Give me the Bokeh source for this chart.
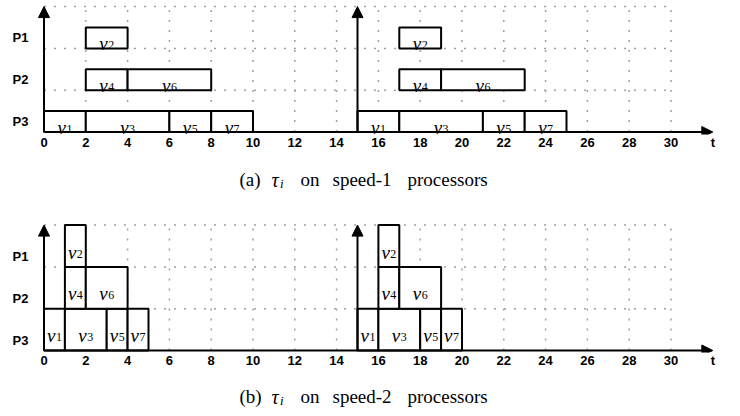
from bokeh.plotting import figure
from bokeh.models import ColumnDataSource, Range1d, FixedTicker, Arrow, NormalHead
from bokeh.layouts import column
from bokeh.core.properties import value
from bokeh.embed import file_html
from bokeh.resources import INLINE

# ---- data ----
tasks = ["v1", "v2", "v3", "v4", "v5", "v6", "v7"]
procs = ["P3", "P1", "P3", "P2", "P3", "P2", "P3"]
speed1_start = [0, 2, 2, 2, 6, 4, 8]
speed1_end = [2, 4, 6, 4, 8, 8, 10]
speed2_start = [0, 1, 1, 1, 3, 2, 4]
speed2_end = [1, 2, 3, 2, 4, 4, 5]
releases = [0, 15]
proc_labels = {0.5: "P3", 2.5: "P2", 4.5: "P1"}
proc_row = {"P3": 0, "P2": 2, "P1": 4}
x_ticks = list(range(0, 31, 2))
axis_label_t = {32: "t"}
grid_x = list(range(2, 31, 2))
grid_y = [2, 4, 6]
t_end = 32
y_top = 6
captions = [("(a)", "speed-1"), ("(b)", "speed-2")]

# ---- geometry (pixels) ----
PX = 20.9          # pixels per unit
X0 = 43.5          # screen x of t=0
W = 740
MB_LEFT = 35
MB_RIGHT = 5
x_start = (MB_LEFT - X0) / PX
x_end = (W - MB_RIGHT - X0) / PX


def xd(px):
    return (px - X0) / PX


def build(start, end, bar_h, height, mb_top, mb_bottom, y_end):
    frame_h = height - mb_top - mb_bottom
    y_start = y_end - frame_h / PX
    p = figure(width=W, height=height, output_backend="svg", toolbar_location=None,
               x_range=Range1d(x_start, x_end), y_range=Range1d(y_start, y_end),
               min_border_left=MB_LEFT, min_border_right=MB_RIGHT,
               min_border_top=mb_top, min_border_bottom=mb_bottom,
               background_fill_color="white", border_fill_color="white")
    p.outline_line_color = None
    p.xgrid.visible = False
    p.ygrid.visible = False

    xa = p.xaxis[0]
    xa.ticker = FixedTicker(ticks=x_ticks + list(axis_label_t.keys()))
    xa.major_label_overrides = axis_label_t
    xa.axis_line_color = None
    xa.major_tick_line_color = None
    xa.minor_tick_line_color = None
    xa.major_tick_out = 0
    xa.major_tick_in = 0
    xa.major_label_standoff = 0
    xa.major_label_text_font = "Liberation Sans"
    xa.major_label_text_font_style = "bold"
    xa.major_label_text_font_size = "13px"
    xa.major_label_text_color = "black"

    ya = p.yaxis[0]
    ya.ticker = FixedTicker(ticks=list(proc_labels.keys()))
    ya.major_label_overrides = proc_labels
    ya.axis_line_color = None
    ya.major_tick_line_color = None
    ya.minor_tick_line_color = None
    ya.major_tick_out = 0
    ya.major_tick_in = 0
    ya.major_label_standoff = 7
    ya.major_label_text_font = "Liberation Sans"
    ya.major_label_text_font_style = "bold"
    ya.major_label_text_font_size = "13px"
    ya.major_label_text_color = "black"

    # dotted grid
    p.segment(x0=grid_x, y0=[0] * len(grid_x), x1=grid_x, y1=[y_top] * len(grid_x),
              line_color="#a0a0a0", line_width=1.5, line_dash="2 8")
    p.segment(x0=[0] * len(grid_y), y0=grid_y, x1=[30] * len(grid_y), y1=grid_y,
              line_color="#a0a0a0", line_width=1.5, line_dash="2 8")

    # bars
    L, R, B, T, XC, YC, SUB = [], [], [], [], [], [], []
    for r in releases:
        for name, pr, s, e in zip(tasks, procs, start, end):
            L.append(s + r)
            R.append(e + r)
            B.append(proc_row[pr])
            T.append(proc_row[pr] + bar_h)
            XC.append((s + e) / 2 + r)
            YC.append(proc_row[pr] + bar_h / 2)
            SUB.append(name[1:])
    src = ColumnDataSource(dict(left=L, right=R, bottom=B, top=T, xc=XC, yc=YC,
                                v=["v"] * len(L), sub=SUB))
    p.quad(left="left", right="right", bottom="bottom", top="top", source=src,
           fill_color="white", line_color="black", line_width=2)
    p.text(x="xc", y="yc", text="v", source=src, text_font=value("Liberation Serif"),
           text_font_style="italic", text_font_size="19px", text_align="right",
           text_baseline="alphabetic", x_offset=1, y_offset=6, text_color="black")
    p.text(x="xc", y="yc", text="sub", source=src, text_font=value("Liberation Serif"),
           text_font_size="12px", text_align="left",
           text_baseline="alphabetic", x_offset=1.5, y_offset=7.5, text_color="black")

    head = dict(size=11, fill_color="black", line_color="black", line_width=1)
    p.add_layout(Arrow(end=NormalHead(**head), x_start=0, y_start=0, x_end=t_end, y_end=0,
                       line_color="black", line_width=2))
    for r in releases:
        p.add_layout(Arrow(end=NormalHead(**head), x_start=r, y_start=0, x_end=r, y_end=y_top,
                           line_color="black", line_width=2))
    return p


def caption(tag, speed, height, base_from_top):
    c = figure(width=W, height=height, output_backend="svg", toolbar_location=None,
               x_range=Range1d(x_start, x_end), y_range=Range1d(0, height),
               min_border=0, x_axis_type=None, y_axis_type=None,
               background_fill_color="white", border_fill_color="white")
    c.outline_line_color = None
    c.xgrid.visible = False
    c.ygrid.visible = False
    yb = height - base_from_top
    words = [tag, "on", speed, "processors"]
    word_px = [239, 300, 332, 407]
    c.text(x=[xd(v) for v in word_px], y=[yb] * len(words), text=words,
           text_font=value("Liberation Serif"), text_font_size="19px",
           text_align="left", text_baseline="alphabetic", text_color="black")
    c.text(x=[xd(271)], y=[yb], text=["τ"], text_font=value("Liberation Serif"),
           text_font_style="italic", text_font_size="20px",
           text_align="left", text_baseline="alphabetic", text_color="black")
    c.text(x=[xd(279.5)], y=[yb - 4], text=["i"], text_font=value("Liberation Serif"),
           text_font_style="italic", text_font_size="13px",
           text_align="left", text_baseline="alphabetic", text_color="black")
    return c


# frame bottom sits ~2.5 px below the time axis
pa = build(speed1_start, speed1_end, 1, height=156, mb_top=2, mb_bottom=22,
           y_end=(131.5 - 2) / PX)
ca = caption(captions[0][0], captions[0][1], height=54, base_from_top=179 - 156)
pb = build(speed2_start, speed2_end, 2, height=164, mb_top=10, mb_bottom=22,
           y_end=(350 - 220) / PX)
cb = caption(captions[1][0], captions[1][1], height=42, base_from_top=396 - 374)

layout = column(pa, ca, pb, cb)
open("out.html", "w").write(file_html(layout, INLINE))
